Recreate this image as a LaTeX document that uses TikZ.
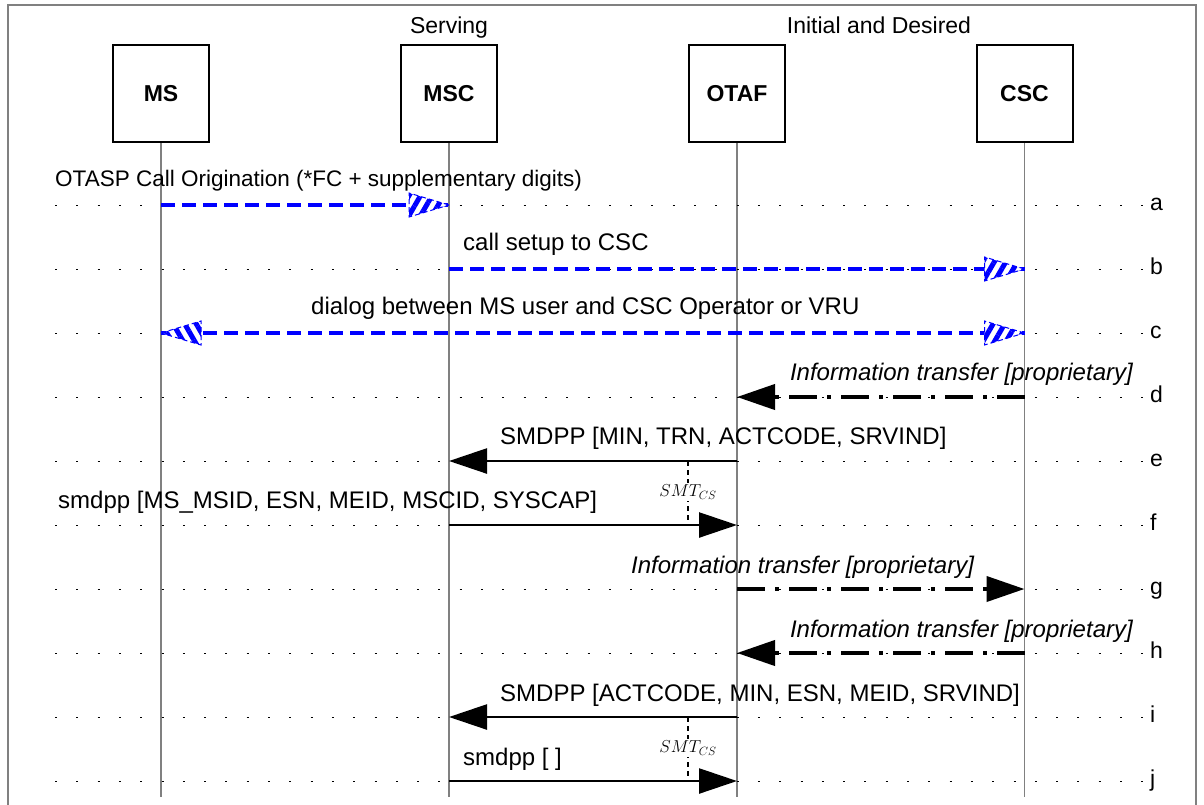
\documentclass[tikz,border=0pt]{standalone}
\usepackage{fontspec}
\setmainfont{Liberation Sans}
\usetikzlibrary{arrows.meta,decorations.markings,patterns.meta}

% hatched blue arrowheads for the voice-path messages
\newcommand\hatchheadfwd{%
  \filldraw[fill=white,draw=blue,line width=1pt,dash pattern=on 5pt off 3pt]
    (0,0) -- (-40,-12) -- (-40,12) -- cycle;
  \path[pattern={Lines[angle=60,distance=10pt,line width=5pt]},pattern color=blue]
    (0,0) -- (-40,-12) -- (-40,12) -- cycle;}
\newcommand\hatchheadback{%
  \filldraw[fill=white,draw=blue,line width=1pt,dash pattern=on 5pt off 3pt]
    (0,0) -- (40,-12) -- (40,12) -- cycle;
  \path[pattern={Lines[angle=-60,distance=10pt,line width=5pt]},pattern color=blue]
    (0,0) -- (40,-12) -- (40,12) -- cycle;}

\begin{document}
\begin{tikzpicture}[x=1pt,y=-1pt,
  every node/.style={font=\fontsize{23}{27}\selectfont,inner sep=0pt},
  entity/.style={draw=black,line width=2pt,minimum width=96pt,minimum height=97pt,
    font=\fontsize{23}{27}\selectfont\bfseries},
  frame/.style={draw=black!50,line width=1.5pt},
  lifeline/.style={draw=black!50,line width=1.5pt},
  rowline/.style={draw=black,line width=1pt,dash pattern=on 2pt off 19.3pt},
  rowtag/.style={anchor=base west},
  msgtext/.style={anchor=base west,font=\fontsize{24}{28}\selectfont},
  voice/.style={draw=blue,line width=4pt,dash pattern=on 14pt off 7pt},
  voicefwd/.style={voice,postaction={decorate},
    decoration={markings,mark=at position 1 with {\hatchheadfwd}}},
  voiceboth/.style={voice,postaction={decorate},
    decoration={markings,mark=at position 0 with {\hatchheadback},
                         mark=at position 1 with {\hatchheadfwd}}},
  info/.style={draw=black,line width=4pt,dash pattern=on 28pt off 10pt on 4pt off 10pt,
    -{Triangle[length=38pt,width=25pt]}},
  msg/.style={draw=black,line width=2.5pt,-{Triangle[length=38pt,width=25pt]}},
  timer/.style={draw=black,line width=2.5pt,dash pattern=on 5pt off 4pt},
  timerlabel/.style={font=\fontsize{17}{20}\selectfont,fill=white,inner sep=1.5pt}
]
\useasboundingbox (0,0) rectangle (1204,804);
\clip (0,0) rectangle (1204,804);
\draw[frame] (8,5) rectangle (1196,840);

% column headings
\node[anchor=base] (hserv) at (449,33) {Serving};
\node[anchor=base] (hinit) at (879,33) {Initial and Desired};

% network entities
\node[entity] (MS)   at (161,93.5)  {MS};
\node[entity] (MSC)  at (449,93.5)  {MSC};
\node[entity] (OTAF) at (737,93.5)  {OTAF};
\node[entity] (CSC)  at (1024.5,93.5) {CSC};

% lifelines and per-step anchor points
\foreach \n/\x in {MS/161,MSC/449,OTAF/737,CSC/1024.5}{
  \coordinate (\n-end) at (\x,797);
  \foreach \r/\y in {a/205,b/269,c/333,d/397,e/461,f/525,g/589,h/653,i/717,j/781}{
    \coordinate (\n-\r) at (\x,\y);
  }
}
\foreach \n in {MS,MSC,OTAF,CSC}{\draw[lifeline] (\n.south) -- (\n-end);}

% step guide lines with their letters
\foreach \r/\y in {a/205,b/269,c/333,d/397,e/461,f/525,g/589,h/653,i/717,j/781}{
  \coordinate (L-\r) at (55,\y);
  \coordinate (R-\r) at (1146,\y);
  \draw[rowline] (L-\r) -- (R-\r);
  \node[rowtag] (tag-\r) at (1150,\y+5) {\r};
}

% a: call origination
\draw[voicefwd] (MS-a) -- (MSC-a);
\node[msgtext,font=\fontsize{22.5}{27}\selectfont] (ta) at (55,186)
  {OTASP Call Origination (*FC + supplementary digits)};

% b: call setup
\draw[voicefwd] (MSC-b) -- (CSC-b);
\node[msgtext] (tb) at (463,250) {call setup to CSC};

% c: dialog
\draw[voiceboth] (MS-c) -- (CSC-c);
\node[msgtext] (tc) at (311,314) {dialog between MS user and CSC Operator or VRU};

% d: information transfer
\draw[info] (CSC-d) -- (OTAF-d);
\node[msgtext,anchor=base east] (td) at (1133,380) {\itshape Information transfer [proprietary]};

% e: SMDPP
\draw[msg] (OTAF-e) -- (MSC-e);
\node[msgtext] (te) at (500,444) {SMDPP [MIN, TRN, ACTCODE, SRVIND]};

% e-f timer
\coordinate (t1a) at (688,461);
\coordinate (t1b) at (688,525);
\draw[timer] (t1a) -- (t1b);
\node[timerlabel] (smt1) at (688,492) {$SMT_{CS}$};

% f: smdpp
\draw[msg] (MSC-f) -- (OTAF-f);
\node[msgtext] (tf) at (58,508) {smdpp [MS\_MSID, ESN, MEID, MSCID, SYSCAP]};

% g: information transfer
\draw[info] (OTAF-g) -- (CSC-g);
\node[msgtext] (tg) at (631,573) {\itshape Information transfer [proprietary]};

% h: information transfer
\draw[info] (CSC-h) -- (OTAF-h);
\node[msgtext,anchor=base east] (th) at (1133,637) {\itshape Information transfer [proprietary]};

% i: SMDPP
\draw[msg] (OTAF-i) -- (MSC-i);
\node[msgtext] (ti) at (500,701) {SMDPP [ACTCODE, MIN, ESN, MEID, SRVIND]};

% i-j timer
\coordinate (t2a) at (688,717);
\coordinate (t2b) at (688,781);
\draw[timer] (t2a) -- (t2b);
\node[timerlabel] (smt2) at (688,748) {$SMT_{CS}$};

% j: smdpp
\draw[msg] (MSC-j) -- (OTAF-j);
\node[msgtext] (tj) at (463,765) {smdpp [ ]};
\end{tikzpicture}
\end{document}
